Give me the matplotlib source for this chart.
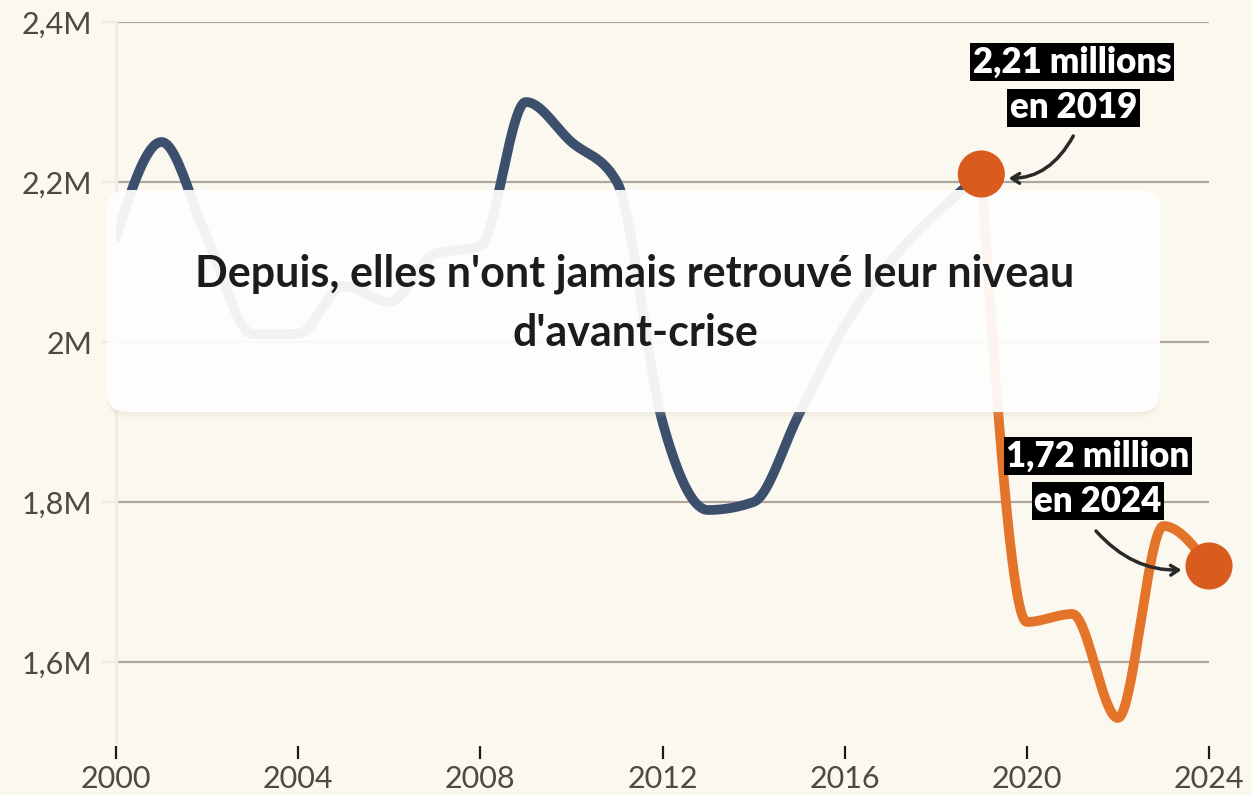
import matplotlib
matplotlib.use('Agg')
import matplotlib.pyplot as plt
from matplotlib.patches import FancyBboxPatch
from matplotlib.ticker import FuncFormatter
import numpy as np

plt.rcParams['font.family'] = ['Lato', 'DejaVu Sans']

years = list(range(2000, 2025))
# nombre (millions)
values = [2.13, 2.25, 2.13, 2.01, 2.01, 2.07, 2.05, 2.11, 2.12, 2.30,
          2.25, 2.20, 1.90, 1.79, 1.80, 1.91, 2.02, 2.10, 2.16, 2.21,
          1.65, 1.66, 1.53, 1.77, 1.72]
split_year = 2019
x_ticks = [2000, 2004, 2008, 2012, 2016, 2020, 2024]
y_ticks = [1.6, 1.8, 2.0, 2.2, 2.4]
title = "Depuis, elles n'ont jamais retrouvé leur niveau\nd'avant-crise"
label_2019 = ['2,21 millions', 'en 2019']
label_2024 = ['1,72 million', 'en 2024']

bg = '#fbf8ef'
blue = '#3c4f6c'
orange = '#e4742a'
dot_c = '#d95b1e'


def monotone(x, y, n=40):
    # d3.curveMonotoneX
    x = np.asarray(x, float)
    y = np.asarray(y, float)
    h = np.diff(x)
    s = np.diff(y) / h
    m = np.zeros(len(x))
    for i in range(1, len(x) - 1):
        p = (s[i - 1] * h[i] + s[i] * h[i - 1]) / (h[i - 1] + h[i])
        m[i] = (np.sign(s[i - 1]) + np.sign(s[i])) * min(abs(s[i - 1]), abs(s[i]), 0.5 * abs(p))
    m[0] = (3 * s[0] - m[1]) / 2
    m[-1] = (3 * s[-1] - m[-2]) / 2
    xs, ys = [], []
    for i in range(len(x) - 1):
        t = np.linspace(0, 1, n)
        h00 = 2 * t**3 - 3 * t**2 + 1
        h10 = t**3 - 2 * t**2 + t
        h01 = -2 * t**3 + 3 * t**2
        h11 = t**3 - t**2
        xs.append(x[i] + t * h[i])
        ys.append(h00 * y[i] + h10 * h[i] * m[i] + h01 * y[i + 1] + h11 * h[i] * m[i + 1])
    return np.concatenate(xs), np.concatenate(ys)


k = years.index(split_year)
bx, by = monotone(years[:k + 1], values[:k + 1])
ox, oy = monotone(years[k:], values[k:])

fig = plt.figure(figsize=(12.52, 7.95), dpi=100, facecolor=bg)
ax = fig.add_axes([116 / 1252, 1 - 742 / 795, 1093 / 1252, 720 / 795])
ax.set_facecolor(bg)

ax.plot(bx, by, color=blue, lw=7, solid_capstyle='round', zorder=3)
ax.plot(ox, oy, color=orange, lw=7, solid_capstyle='round', zorder=3)

ax.set_xlim(2000, 2024)
ax.set_ylim(1.5, 2.4)
ax.set_xticks(x_ticks)
ax.set_yticks(y_ticks)
ax.yaxis.set_major_formatter(FuncFormatter(
    lambda v, _: (f'{v:.1f}'.replace('.0', '').replace('.', ',')) + 'M'))
ax.grid(axis='y', color='#aea79e', lw=1.6, zorder=1)
ax.grid(axis='x', visible=False)

for s in ['top', 'right']:
    ax.spines[s].set_visible(False)
ax.spines['bottom'].set_position(('outward', 3))
ax.spines['bottom'].set_visible(False)
ax.spines['left'].set_color('#f0ede7')
ax.spines['left'].set_linewidth(2.5)
ax.tick_params(axis='x', length=9.5, width=1.6, color='#1a1a1a', pad=4,
               labelsize=22, labelcolor='#4e4943')
ax.tick_params(axis='y', length=10, width=1.5, color='#eeeae2', pad=7,
               labelsize=22, labelcolor='#4e4943')

# encadré blanc semi-transparent
for i, a in enumerate([0.10, 0.07, 0.04]):
    ax.add_patch(FancyBboxPatch((1.07, 3.83 - 0.02 * (i + 1)), 10.53, 2.22,
                                boxstyle='round,pad=0,rounding_size=0.2',
                                transform=fig.dpi_scale_trans, fc='#c9bfae', ec='none',
                                alpha=a, zorder=4.5, clip_on=False))
ax.add_patch(FancyBboxPatch((1.07, 3.83), 10.53, 2.22,
                            boxstyle='round,pad=0,rounding_size=0.2',
                            transform=fig.dpi_scale_trans, fc='white', ec='none',
                            alpha=0.92, zorder=5, clip_on=False))
ax.text(635 / 1252, 1 - 303 / 795, title, transform=fig.transFigure,
        ha='center', va='center', fontsize=31, fontweight='bold',
        color='#1c1c1c', linespacing=1.58, zorder=7)

# points et étiquettes
ends = [split_year, years[-1]]
end_vals = [values[k], values[-1]]
ax.scatter(ends, end_vals, s=1150, color=dot_c, edgecolors='none', zorder=6, clip_on=False)

lbl_kw = dict(textcoords='offset pixels', ha='center', va='center', color='white',
              fontsize=25, fontweight='heavy', zorder=8,
              bbox=dict(boxstyle='square,pad=0.08', fc='black', ec='none'))
ax.annotate(label_2019[0], xy=(ends[0], end_vals[0]), xytext=(91, 112), **lbl_kw)
ax.annotate(label_2019[1], xy=(ends[0], end_vals[0]), xytext=(92, 66), **lbl_kw)
ax.annotate(label_2024[0], xy=(ends[1], end_vals[1]), xytext=(-111, 110), **lbl_kw)
ax.annotate(label_2024[1], xy=(ends[1], end_vals[1]), xytext=(-111, 65), **lbl_kw)

arr_kw = dict(arrowstyle='->,head_length=0.55,head_width=0.35', color='#2a2a2a',
              lw=2.5, shrinkA=0, shrinkB=20)
ax.annotate('', xy=(ends[0], end_vals[0]), xytext=(92, 38), textcoords='offset pixels',
            arrowprops=dict(connectionstyle='arc3,rad=-0.4', **arr_kw), zorder=8)
ax.annotate('', xy=(ends[1], end_vals[1]), xytext=(-113, 35), textcoords='offset pixels',
            arrowprops=dict(connectionstyle='arc3,rad=0.3', **arr_kw), zorder=8)

fig.savefig('out.png', dpi=100, facecolor=bg)
